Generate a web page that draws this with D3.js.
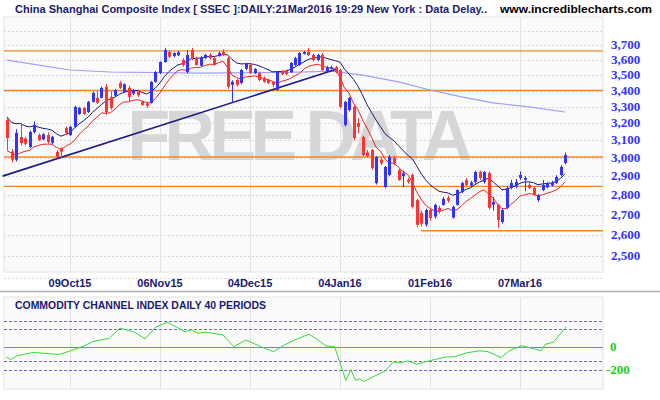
<!DOCTYPE html>
<html>
<head>
<meta charset="utf-8">
<script src="https://cdn.jsdelivr.net/npm/d3@7"></script>
<style>
  body { margin: 0; background: #fff; }
</style>
</head>
<body>
<div id="chart"></div>
<script>
// daily candles, one row per session: [open, high, low, close]
const ohlc = [
  [3219,3230,3044,3113],[3035,3050,2975,2990],[2990,3165,2980,3142],[3119,3200,3070,3084],
  [3110,3120,3070,3080],[3061,3155,3055,3148],[3148,3210,3140,3189],[3130,3140,3095,3101],
  [3105,3140,3100,3135],[3130,3145,3080,3090],[3085,3125,3075,3120],[3033,3045,2998,3005],
  [3055,3060,3000,3035],[3172,3180,3130,3142],[3130,3185,3125,3178],[3178,3305,3170,3298],
  [3255,3298,3250,3292],[3292,3298,3250,3255],[3267,3335,3260,3329],[3329,3392,3325,3385],
  [3354,3395,3315,3323],[3354,3425,3350,3417],[3423,3440,3250,3267],[3360,3395,3280,3292],
  [3368,3410,3360,3403],[3448,3460,3410,3417],[3390,3445,3385,3440],[3417,3430,3330,3360],
  [3380,3410,3370,3400],[3395,3405,3360,3370],[3329,3335,3305,3310],[3320,3330,3290,3305],
  [3323,3460,3318,3455],[3455,3525,3450,3519],[3512,3590,3505,3585],[3585,3680,3580,3666],
  [3652,3665,3610,3620],[3625,3650,3615,3645],[3630,3660,3625,3650],[3598,3610,3555,3565],
  [3519,3665,3510,3632],[3666,3680,3600,3611],[3611,3620,3560,3565],[3560,3625,3555,3615],
  [3611,3640,3605,3632],[3632,3645,3600,3611],[3611,3620,3560,3565],[3625,3655,3620,3645],
  [3652,3670,3625,3632],[3611,3620,3410,3423],[3436,3465,3323,3455],[3467,3475,3425,3436],
  [3448,3540,3440,3532],[3540,3580,3530,3575],[3565,3575,3505,3512],[3512,3545,3505,3538],
  [3512,3520,3460,3467],[3480,3490,3450,3455],[3467,3475,3440,3448],[3455,3460,3420,3436],
  [3403,3525,3400,3519],[3519,3530,3500,3505],[3525,3535,3498,3505],[3519,3585,3512,3578],
  [3565,3620,3560,3611],[3565,3652,3560,3645],[3640,3660,3635,3652],[3652,3680,3625,3632],
  [3632,3640,3590,3598],[3598,3640,3590,3632],[3632,3645,3525,3532],[3519,3560,3512,3550],
  [3540,3560,3535,3550],[3550,3560,3510,3519],[3532,3540,3290,3298],[3189,3335,3180,3329],
  [3279,3360,3270,3354],[3298,3310,3100,3113],[3200,3230,3140,3178],[3119,3125,3010,3016],
  [3030,3045,3000,3010],[3044,3050,2935,2944],[2863,3010,2855,3005],[2990,3000,2960,2970],
  [2842,2955,2835,2950],[2906,3015,2900,3005],[2999,3010,2960,2972],[2933,2940,2875,2879],
  [2900,2930,2840,2915],[2880,2890,2860,2870],[2906,2915,2730,2739],[2774,2780,2638,2649],
  [2708,2720,2640,2655],[2650,2730,2640,2723],[2723,2735,2670,2683],[2690,2755,2680,2749],
  [2734,2745,2705,2715],[2749,2790,2745,2780],[2785,2795,2760,2770],[2685,2745,2680,2739],
  [2749,2830,2745,2826],[2816,2870,2810,2863],[2879,2890,2845,2853],[2850,2875,2840,2865],
  [2869,2930,2860,2922],[2922,2930,2880,2890],[2869,2928,2860,2922],[2917,2925,2725,2734],
  [2750,2790,2720,2764],[2749,2755,2634,2673],[2663,2730,2655,2723],[2734,2845,2728,2837],
  [2837,2880,2830,2863],[2845,2885,2835,2869],[2890,2925,2880,2906],[2880,2900,2820,2890],
  [2853,2870,2830,2837],[2837,2845,2795,2800],[2774,2805,2765,2800],[2826,2880,2820,2853],
  [2840,2870,2835,2860],[2850,2875,2845,2865],[2863,2905,2858,2895],[2906,2960,2900,2950],
  [2972,3030,2965,3016]
];

const dateLabels = ['09Oct15', '06Nov15', '04Dec15', '04Jan16', '01Feb16', '07Mar16'];
const dateIdx = [14, 34, 54, 74, 94, 114];

const priceTicks = [2500, 2600, 2700, 2800, 2900, 3000, 3100, 3200, 3300, 3400, 3500, 3600, 3700];
const gridPrices = [2400, 2500, 2600, 2700, 2800, 2900, 3000, 3100, 3200, 3300, 3400, 3500, 3600, 3700, 3800];

// support / resistance levels (the last one starts in February)
const levels = [3660, 3400, 3005, 2845, 2620];
const levelStart = [0, 0, 0, 0, 92];

// long moving average
const longMaIdx = [0, 14, 23, 43, 63, 72, 79, 87, 94, 101, 108, 116, 124];
const longMaVal = [3598, 3532, 3519, 3512, 3516, 3525, 3499, 3455, 3403, 3360, 3323, 3298, 3267];

// trend line anchors
const trendIdx = [-1, 73];
const trendVal = [2900, 3535];

// seeds for the two short averages (history before the window)
const highSeed = 3240, lowSeed = 3040;

// CCI 40
const cciIdx = [-0.2,0.8,2.2,5.9,11.5,13.9,17.1,19,22.7,25.1,28.4,30.7,33,35.6,39.6,41,42.4,44.2,48,50.4,
  53.1,56.4,59.2,61.6,63.9,67.1,68.6,70.9,72.8,75.3,76.4,77.5,78.4,79.3,84,85.9,87.3,89.1,91,92.9,
  97.6,99.4,102.2,105.1,106.9,109.8,111.6,114.4,118.7,119.6,121.4,124.2];
const cciVal = [-87,-110,-78,-49,-67,-38,6,43,72,159,124,67,168,209,128,145,116,124,101,0,
  58,0,-43,14,58,107,72,6,0,-290,-197,-290,-275,-298,-208,-130,-139,-122,-151,-130,
  -87,-87,-52,-35,-43,-93,-35,9,-35,20,38,168];
const cciLevels = [217, 148, -122, -200];

const W = 660, H = 400;
const PLOT = { L: 4, R: 603, T: 17, B: 272 };
const CCI = { T: 297, B: 389 };

const svg = d3.select('#chart').append('svg').attr('width', W).attr('height', H)
  .style('font-family', 'Liberation Sans, Arial, sans-serif');

const x = d3.scaleLinear().domain([0, 124]).range([7, 565]);
const y = d3.scaleLog().domain([2500, 3700]).range([256, 45]);
const yc = d3.scaleLinear().domain([-200, 0]).range([370, 346.7]);

// panels
svg.append('rect').attr('x', PLOT.L).attr('y', PLOT.T).attr('width', PLOT.R - PLOT.L).attr('height', PLOT.B - PLOT.T)
  .attr('fill', '#fafafa').attr('stroke', '#e4e4e4');
svg.append('rect').attr('x', PLOT.L).attr('y', CCI.T).attr('width', PLOT.R - PLOT.L).attr('height', CCI.B - CCI.T)
  .attr('fill', '#fafafa').attr('stroke', '#e4e4e4');
svg.append('line').attr('x1', 0).attr('x2', W).attr('y1', 291.5).attr('y2', 291.5).attr('stroke', '#b0b0b0').attr('stroke-width', 1.5);

// grid
svg.selectAll('.hgrid').data(gridPrices).enter().append('line')
  .attr('x1', PLOT.L).attr('x2', PLOT.R).attr('y1', d => Math.round(y(d)) + 0.5).attr('y2', d => Math.round(y(d)) + 0.5)
  .attr('stroke', '#d8d8d8').attr('stroke-dasharray', '2,2');
svg.selectAll('.vgrid').data(dateIdx).enter().append('line')
  .attr('x1', d => Math.round(x(d)) + 0.5).attr('x2', d => Math.round(x(d)) + 0.5)
  .attr('y1', PLOT.T).attr('y2', PLOT.B).attr('stroke', '#e2e2e2');
svg.selectAll('.vgrid2').data(dateIdx).enter().append('line')
  .attr('x1', d => Math.round(x(d)) + 0.5).attr('x2', d => Math.round(x(d)) + 0.5)
  .attr('y1', CCI.T).attr('y2', CCI.B).attr('stroke', '#e2e2e2');

// watermark
svg.append('text').attr('x', 300).attr('y', 160).attr('text-anchor', 'middle')
  .attr('font-size', 70).attr('font-weight', 'bold').attr('fill', '#d6d6d6')
  .attr('textLength', 345).text('FREE DATA');

// level lines
svg.selectAll('.lvl').data(levels).enter().append('line')
  .attr('x1', (d, i) => levelStart[i] ? x(levelStart[i]) : PLOT.L).attr('x2', PLOT.R)
  .attr('y1', d => y(d)).attr('y2', d => y(d)).attr('stroke', '#f0882a').attr('stroke-width', 1.3);

// long MA
svg.append('path').datum(longMaIdx.map((d, i) => [d, longMaVal[i]]))
  .attr('d', d3.line().x(d => x(d[0])).y(d => y(d[1])))
  .attr('fill', 'none').attr('stroke', '#9f9ff5').attr('stroke-width', 1.2);

// trend line
svg.append('path').datum(trendIdx.map((d, i) => [d, trendVal[i]]))
  .attr('d', d3.line().x(d => x(d[0])).y(d => y(d[1])))
  .attr('fill', 'none').attr('stroke', '#1c1c80').attr('stroke-width', 1.6);

// short averages
function ema(vals, n, seed) {
  const k = 2 / (n + 1);
  let prev = seed;
  return vals.map(v => (prev = prev + k * (v - prev)));
}
const navy = ema(ohlc.map(d => d[1]), 10, highSeed);
const red = ema(ohlc.map(d => d[2]), 8, lowSeed);
const avgLine = d3.line().x((d, i) => x(i)).y(d => y(d));
svg.append('path').datum(navy).attr('d', avgLine).attr('fill', 'none').attr('stroke', '#1a1a6e').attr('stroke-width', 1);
svg.append('path').datum(red).attr('d', avgLine).attr('fill', 'none').attr('stroke', '#ee2222').attr('stroke-width', 1);

// candles
const candle = svg.selectAll('.candle').data(ohlc).enter().append('g');
candle.append('line')
  .attr('x1', (d, i) => Math.round(x(i)) + 0.5).attr('x2', (d, i) => Math.round(x(i)) + 0.5)
  .attr('y1', d => y(d[1])).attr('y2', d => y(d[2]))
  .attr('stroke', d => d[3] >= d[0] ? '#3333ff' : '#ff3333');
candle.append('rect')
  .attr('x', (d, i) => Math.round(x(i)) - 1).attr('width', 3)
  .attr('y', d => y(Math.max(d[0], d[3])))
  .attr('height', d => Math.max(1, Math.abs(y(d[0]) - y(d[3]))))
  .attr('fill', d => d[3] >= d[0] ? '#3333ff' : '#ff3333');

// price axis labels
svg.selectAll('.ptick').data(priceTicks).enter().append('text')
  .attr('x', 611).attr('y', d => y(d) + 4)
  .attr('font-family', 'Liberation Serif, Times New Roman, serif').attr('font-weight', 'bold')
  .attr('font-size', 13).attr('fill', '#3333ff').text(d3.format(','));

// date labels
svg.selectAll('.dtick').data(dateLabels).enter().append('text')
  .attr('x', (d, i) => x(dateIdx[i])).attr('y', 287).attr('text-anchor', 'middle')
  .attr('font-weight', 'bold').attr('font-size', 11).attr('fill', '#1a1a6e').text(d => d);

// header
svg.append('text').attr('x', 15).attr('y', 13).attr('font-weight', 'bold').attr('font-size', 11.5)
  .attr('fill', '#1a1a6e').attr('textLength', 472).attr('lengthAdjust', 'spacingAndGlyphs')
  .text('China Shanghai Composite Index [ SSEC ]:DAILY:21Mar2016 19:29 New York : Data Delay..');
svg.append('text').attr('x', 500).attr('y', 13).attr('font-weight', 'bold').attr('font-size', 11.5)
  .attr('fill', '#000').attr('textLength', 152).attr('lengthAdjust', 'spacingAndGlyphs')
  .text('www.incrediblecharts.com');

// CCI panel
svg.append('text').attr('x', 15).attr('y', 309).attr('font-weight', 'bold').attr('font-size', 11)
  .attr('fill', '#1a1a6e').attr('textLength', 251).attr('lengthAdjust', 'spacingAndGlyphs')
  .text('COMMODITY CHANNEL INDEX DAILY 40 PERIODS');
svg.selectAll('.clvl').data(cciLevels).enter().append('line')
  .attr('x1', PLOT.L).attr('x2', PLOT.R).attr('y1', d => Math.round(yc(d)) + 0.5).attr('y2', d => Math.round(yc(d)) + 0.5)
  .attr('stroke', '#6c6cc8').attr('stroke-dasharray', '3,2');
svg.append('line').attr('x1', PLOT.L).attr('x2', PLOT.R).attr('y1', Math.round(yc(0)) + 0.5).attr('y2', Math.round(yc(0)) + 0.5)
  .attr('stroke', '#8080cc').attr('stroke-width', 1.2);
svg.append('path').datum(cciIdx.map((d, i) => [d, cciVal[i]]))
  .attr('d', d3.line().x(d => x(d[0])).y(d => yc(d[1])))
  .attr('fill', 'none').attr('stroke', '#33dd33').attr('stroke-width', 1);
svg.selectAll('.ctick').data([0, -200]).enter().append('text')
  .attr('x', d => d === 0 ? 610 : 606).attr('y', d => yc(d) + 4)
  .attr('font-family', 'Liberation Serif, Times New Roman, serif').attr('font-weight', 'bold')
  .attr('font-size', 13).attr('fill', '#22cc22').text(d => d);
</script>
</body>
</html>
